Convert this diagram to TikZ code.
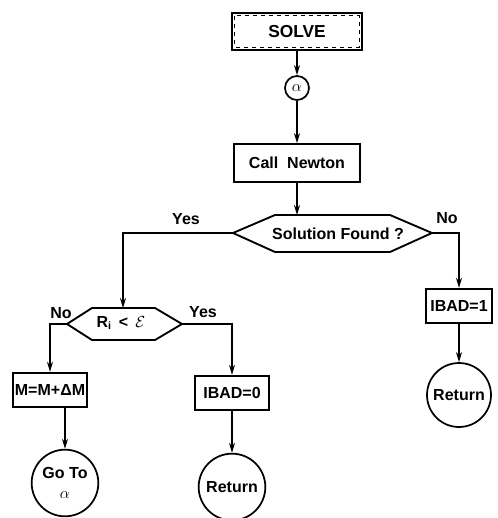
\documentclass[tikz,border=0pt]{standalone}
\usepackage{fontspec}
\setmainfont{Liberation Sans}
\usetikzlibrary{arrows.meta}
\tikzset{
  box/.style={draw,line width=1.3pt,minimum height=26pt,inner sep=1.5pt},
  term/.style={draw,circle,line width=1.3pt,minimum size=50pt,inner sep=0pt,align=center},
  hexa/.style={line width=1.4pt,line join=miter},
  flow/.style={line width=1.2pt,-{Stealth[length=7.5pt,width=4.5pt]}},
}
\begin{document}
\begin{tikzpicture}[x=0.75pt,y=-0.75pt,font=\fontsize{12}{14}\bfseries\selectfont]
\useasboundingbox (0,0) rectangle (497,518);
% Start
\node[box,line width=1.6pt,minimum width=97.5pt,minimum height=27.75pt,font=\fontsize{13}{15}\bfseries\selectfont] (solve) at (297,31.5) {SOLVE};
\draw[dashed,line width=0.8pt] ([shift={(3pt,-3pt)}]solve.north west) rectangle ([shift={(-3pt,3pt)}]solve.south east);
\node[term,minimum size=18pt] (alpha) at (297,88) {\normalfont$\alpha$};
\node[box,minimum width=94.5pt,minimum height=28.5pt] (newton) at (297,163) {Call~~Newton};
\draw[flow] (solve) -- (alpha);
\draw[flow] (alpha) -- (newton);
% Solution Found ?
\coordinate (sfL) at (233,233);
\coordinate (sfR) at (432,233);
\coordinate (sfT) at (297,215);
\draw[hexa] (sfL) -- (275,215) -- (390,215) -- (sfR) -- (390,252) -- (275,252) -- cycle;
\node (found) at (338,234) {Solution Found ?};
\draw[flow] (newton) -- (sfT);
\node (yes1) at (186,219) {Yes};
\node (no1) at (447,218) {No};
% vetev No
\node[box,minimum width=50pt] (ibad1) at (459,306) {IBAD=1};
\draw[flow] (sfR) -| (ibad1);
\node[term,minimum size=48pt] (ret1) at (459,395) {Return};
\draw[flow] (ibad1) -- (ret1);
% vetev Yes
\coordinate (rL) at (67,324);
\coordinate (rR) at (182,324);
\coordinate (rT) at (123,308);
\draw[hexa] (rL) -- (92,308) -- (155,308) -- (rR) -- (155,340) -- (92,340) -- cycle;
\node (rtest) at (121,323) {R\textsubscript{i} \,<\, $\mathcal{E}$};
\draw[flow] (sfL) -| (rT);
\node (no2) at (61,313) {No};
\node (yes2) at (203,312) {Yes};
% R < E
\node[box,minimum width=54pt] (mbox) at (50,390) {M=M+ΔM};
\draw[flow] (rL) -| (mbox);
\node[term] (goto) at (65,483) {Go To\\[1pt]{\normalfont$\alpha$}};
\draw[flow] (goto.north |- mbox.south) -- (goto.north);
\node[box,minimum width=56pt] (ibad0) at (232,393) {IBAD=0};
\draw[flow] (rR) -| (ibad0);
\node[term] (ret0) at (232,487) {Return};
\draw[flow] (ibad0) -- (ret0);
\end{tikzpicture}
\end{document}
